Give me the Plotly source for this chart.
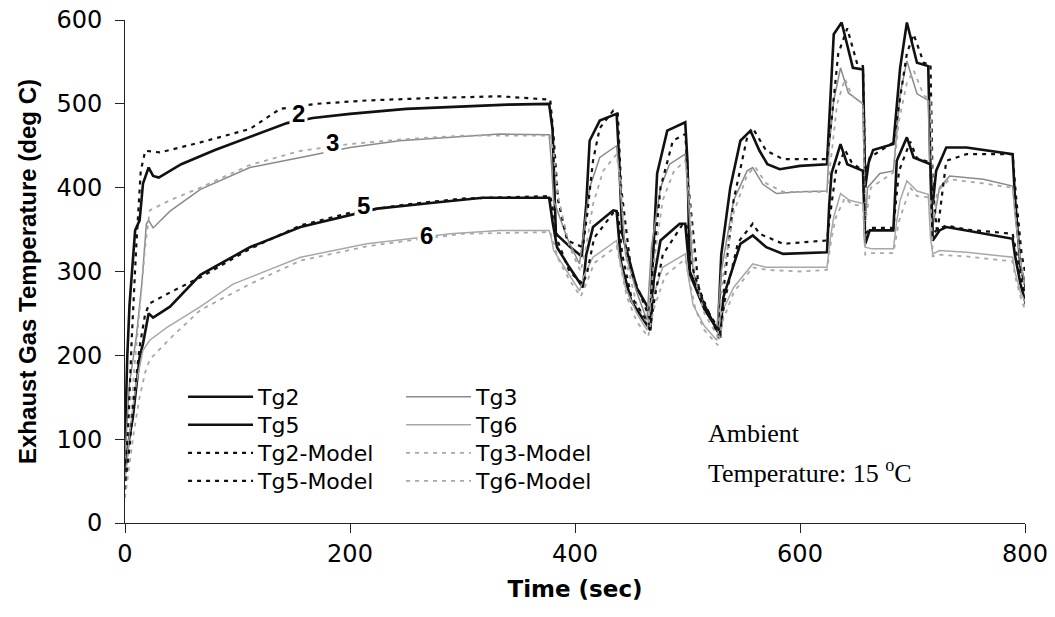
import plotly.graph_objects as go

# Measured exhaust gas temperatures (deg C) vs time (s)
t_tg2 = [0, 2, 4, 7, 9, 13, 16, 21, 25, 30, 50, 80, 110, 144, 167, 200, 250, 300, 340, 377,
         380, 383, 395, 406, 410, 413, 422, 437, 439, 442, 455, 467, 470, 473, 482, 498, 500,
         502, 515, 527, 530, 538, 547, 556, 564, 571, 582, 600, 624, 627, 630, 637, 642, 647,
         656, 658, 661, 665, 683, 686, 689, 695, 704, 714, 716, 718, 721, 730, 748, 789, 791,
         796, 803]
tg2 = [95, 198, 260, 313, 349, 361, 405, 424, 414, 412, 428, 445, 460, 477, 483, 488, 494,
       497, 499, 500, 470, 345, 330, 318, 380, 456, 480, 488, 440, 345, 280, 252, 340, 417,
       468, 478, 430, 300, 260, 228, 320, 400, 456, 468, 444, 428, 422, 426, 428, 500, 583,
       597, 571, 543, 541, 400, 430, 445, 452, 500, 543, 597, 549, 545, 420, 380, 420, 448,
       448, 440, 390, 305, 269]

t_tg3 = [0, 4, 10, 15, 19, 21, 25, 40, 67, 111, 156, 200, 244, 304, 333, 377, 379, 381, 393,
         404, 407, 413, 422, 437, 439, 445, 455, 464, 468, 476, 484, 498, 500, 505, 515, 526,
         530, 541, 553, 558, 567, 579, 600, 624, 626, 630, 636, 643, 656, 658, 660, 671, 683,
         686, 689, 695, 704, 714, 716, 718, 724, 733, 763, 789, 791, 796, 803]
tg3 = [80, 167, 221, 286, 357, 361, 352, 372, 398, 424, 436, 448, 456, 462, 464, 463, 430,
       385, 340, 309, 340, 400, 436, 450, 420, 320, 275, 242, 330, 400, 428, 440, 400, 300,
       255, 230, 300, 385, 420, 424, 404, 393, 395, 396, 450, 504, 543, 513, 500, 353, 400,
       417, 420, 470, 512, 551, 512, 504, 380, 353, 400, 414, 410, 402, 370, 310, 268]

t_tg5 = [0, 3, 7, 13, 16, 21, 25, 40, 67, 111, 156, 200, 224, 274, 318, 377, 380, 384, 395,
         407, 410, 416, 434, 437, 441, 450, 467, 470, 476, 493, 498, 502, 515, 529, 532, 547,
         558, 570, 585, 624, 626, 628, 636, 642, 656, 658, 662, 683, 686, 695, 701, 716, 718,
         724, 730, 748, 789, 791, 796, 803]
tg5 = [60, 95, 126, 198, 214, 250, 245, 258, 296, 329, 353, 367, 375, 382, 388, 388, 360,
       329, 305, 281, 320, 353, 373, 372, 310, 265, 230, 290, 337, 357, 357, 297, 255, 226,
       270, 333, 343, 329, 321, 323, 380, 417, 452, 428, 420, 333, 349, 349, 432, 460, 436,
       428, 337, 349, 353, 349, 339, 320, 285, 250]

t_tg6 = [0, 4, 10, 16, 22, 37, 67, 96, 156, 215, 253, 289, 333, 377, 379, 381, 393, 404, 408,
         416, 437, 439, 445, 455, 464, 468, 478, 498, 500, 505, 515, 526, 530, 541, 558, 570,
         600, 624, 627, 630, 636, 644, 656, 658, 664, 683, 686, 689, 695, 704, 714, 716, 718,
         724, 748, 789, 791, 796, 803]
tg6 = [50, 107, 167, 206, 218, 233, 258, 285, 317, 333, 339, 345, 349, 349, 340, 325, 300,
       277, 295, 317, 337, 320, 280, 250, 230, 265, 305, 321, 300, 260, 235, 218, 250, 281,
       309, 305, 305, 305, 340, 365, 393, 385, 381, 329, 327, 327, 360, 385, 408, 396, 392,
       340, 321, 325, 323, 317, 300, 275, 257]

# Model predictions
t_tg2m = [0, 3, 6, 10, 14, 18, 31, 67, 111, 138, 170, 215, 274, 333, 378, 381, 385, 393, 407,
          411, 416, 422, 434, 438, 441, 450, 467, 471, 476, 487, 498, 501, 510, 529, 533, 541,
          553, 558, 570, 585, 624, 628, 634, 642, 651, 656, 658, 662, 683, 688, 695, 701, 710,
          716, 718, 722, 730, 748, 789, 792, 797, 803]
tg2m = [50, 120, 220, 330, 420, 444, 442, 454, 470, 494, 500, 504, 507, 509, 505, 460, 385,
        337, 329, 370, 432, 471, 492, 490, 400, 300, 242, 330, 400, 456, 464, 400, 280, 218,
        290, 385, 460, 471, 444, 434, 434, 480, 560, 590, 547, 545, 420, 436, 454, 500, 560,
        583, 549, 547, 400, 345, 432, 440, 440, 390, 320, 280]

t_tg3m = [0, 4, 8, 13, 18, 22, 40, 67, 111, 156, 200, 250, 300, 378, 381, 385, 395, 405, 410,
          416, 425, 437, 440, 446, 455, 465, 470, 478, 488, 498, 501, 507, 515, 527, 531, 541,
          553, 560, 570, 585, 624, 628, 633, 640, 646, 656, 658, 663, 683, 688, 695, 701, 710,
          716, 718, 722, 733, 763, 789, 792, 797, 803]
tg3m = [40, 100, 180, 260, 330, 373, 385, 400, 427, 444, 452, 458, 462, 462, 440, 390, 330,
        300, 330, 380, 420, 440, 410, 310, 260, 236, 310, 385, 420, 432, 400, 290, 250, 222,
        290, 370, 415, 425, 405, 395, 395, 440, 500, 530, 510, 500, 360, 400, 418, 480, 525,
        540, 510, 505, 360, 395, 410, 405, 400, 360, 300, 255]

t_tg5m = [0, 4, 8, 13, 18, 22, 40, 67, 111, 156, 200, 250, 300, 378, 381, 385, 395, 407, 411,
          417, 434, 438, 442, 450, 467, 471, 478, 495, 499, 503, 515, 529, 533, 545, 558, 564,
          585, 624, 628, 632, 640, 646, 656, 658, 663, 683, 688, 698, 704, 716, 718, 722, 730,
          748, 789, 792, 797, 803]
tg5m = [40, 90, 150, 210, 250, 262, 275, 293, 327, 355, 370, 380, 387, 390, 370, 335, 300,
        285, 300, 340, 370, 372, 320, 270, 235, 270, 320, 355, 357, 310, 260, 228, 265, 335,
        357, 345, 333, 337, 380, 420, 445, 430, 420, 345, 352, 352, 420, 455, 435, 430, 345,
        350, 355, 350, 345, 325, 290, 255]

t_tg6m = [0, 4, 8, 13, 18, 22, 40, 67, 111, 156, 215, 253, 300, 378, 381, 385, 395, 405, 410,
          417, 437, 440, 446, 455, 465, 470, 480, 498, 501, 507, 515, 527, 531, 541, 558, 570,
          600, 624, 628, 632, 640, 646, 656, 658, 664, 683, 688, 698, 704, 716, 718, 724, 748,
          789, 792, 797, 803]
tg6m = [30, 70, 110, 150, 180, 195, 220, 254, 285, 313, 330, 337, 345, 347, 335, 315, 290,
        270, 285, 310, 330, 310, 270, 240, 222, 255, 295, 315, 295, 255, 230, 212, 240, 275,
        305, 302, 300, 302, 340, 365, 388, 380, 378, 320, 322, 322, 360, 400, 390, 388, 318,
        320, 318, 312, 290, 265, 245]

# Curve labels placed on the measured lines
curve_labels = ["2", "3", "5", "6"]
label_t = [154, 184, 212, 268]
label_v = [489, 454, 379, 343]

x_ticks = [0, 200, 400, 600, 800]
y_ticks = [0, 100, 200, 300, 400, 500, 600]

BLACK = "#111111"
GRAY = "#8a8a8a"
LIGHT = "#a8a8a8"
DOT = "4px,5px"
SANS = "DejaVu Sans"

# one horizontal legend per row, two entries each
series = [
    # name, t, values, colour, width, dash, legend row
    ("Tg2", t_tg2, tg2, BLACK, 2.6, "solid", "legend"),
    ("Tg3", t_tg3, tg3, GRAY, 1.5, "solid", "legend"),
    ("Tg5", t_tg5, tg5, BLACK, 2.6, "solid", "legend2"),
    ("Tg6", t_tg6, tg6, LIGHT, 1.5, "solid", "legend2"),
    ("Tg2-Model", t_tg2m, tg2m, BLACK, 2.2, DOT, "legend3"),
    ("Tg3-Model", t_tg3m, tg3m, LIGHT, 1.8, DOT, "legend3"),
    ("Tg5-Model", t_tg5m, tg5m, BLACK, 2.2, DOT, "legend4"),
    ("Tg6-Model", t_tg6m, tg6m, LIGHT, 1.8, DOT, "legend4"),
]

fig = go.Figure()
for name, tt, vv, col, w, dash, lg in series:
    fig.add_trace(go.Scatter(
        x=tt, y=vv, mode="lines", name=name, legend=lg,
        line=dict(color=col, width=w, dash=dash),
    ))

for txt, xt, yv in zip(curve_labels, label_t, label_v):
    fig.add_annotation(x=xt, y=yv, text="<b>%s</b>" % txt, showarrow=False,
                       font=dict(family="Liberation Sans", size=24, color="black"),
                       bgcolor="white", borderpad=2)

fig.add_annotation(x=516, y=107, xanchor="left", yanchor="middle", showarrow=False,
                   text="Ambient",
                   font=dict(family="Liberation Serif", size=26, color="black"))
fig.add_annotation(x=516, y=62, xanchor="left", yanchor="middle", showarrow=False,
                   text="Temperature: 15 <sup>o</sup>C",
                   font=dict(family="Liberation Serif", size=26, color="black"))

axis_common = dict(
    showgrid=False, zeroline=False, showline=True, linecolor="#222222", linewidth=1,
    ticks="outside", ticklen=9, tickcolor="#222222", tickwidth=1,
    tickfont=dict(family=SANS, size=24, color="black"),
)

legend_common = dict(
    font=dict(family=SANS, size=22, color="black"),
    bgcolor="rgba(0,0,0,0)", itemwidth=65, tracegroupgap=0,
    xanchor="left", yanchor="middle", orientation="h",
    entrywidth=138, entrywidthmode="pixels", x=0.0645,
)

# row centres in pixels from the top of the plot area (y=0 at 20 px)
legend_rows_px = [377, 405, 433, 461]
row_y = [1 - r / 503 for r in legend_rows_px]

fig.update_layout(
    width=1055, height=617,
    margin=dict(l=125, r=30, t=20, b=94),
    paper_bgcolor="white", plot_bgcolor="white",
    xaxis=dict(axis_common, range=[0, 800], tickvals=x_ticks, automargin=False,
               title=dict(text="<b>Time (sec)</b>", standoff=14,
                          font=dict(family=SANS, size=23, color="black"))),
    yaxis=dict(axis_common, range=[0, 600], tickvals=y_ticks, ticklabelstandoff=8,
               automargin=False,
               title=dict(text="<b>Exhaust Gas Temperature (deg C)</b>", standoff=12,
                          font=dict(family="Liberation Sans", size=24, color="black"))),
    legend=dict(legend_common, y=row_y[0]),
    legend2=dict(legend_common, y=row_y[1]),
    legend3=dict(legend_common, y=row_y[2]),
    legend4=dict(legend_common, y=row_y[3]),
    showlegend=True,
)

fig.write_html("out.html")
